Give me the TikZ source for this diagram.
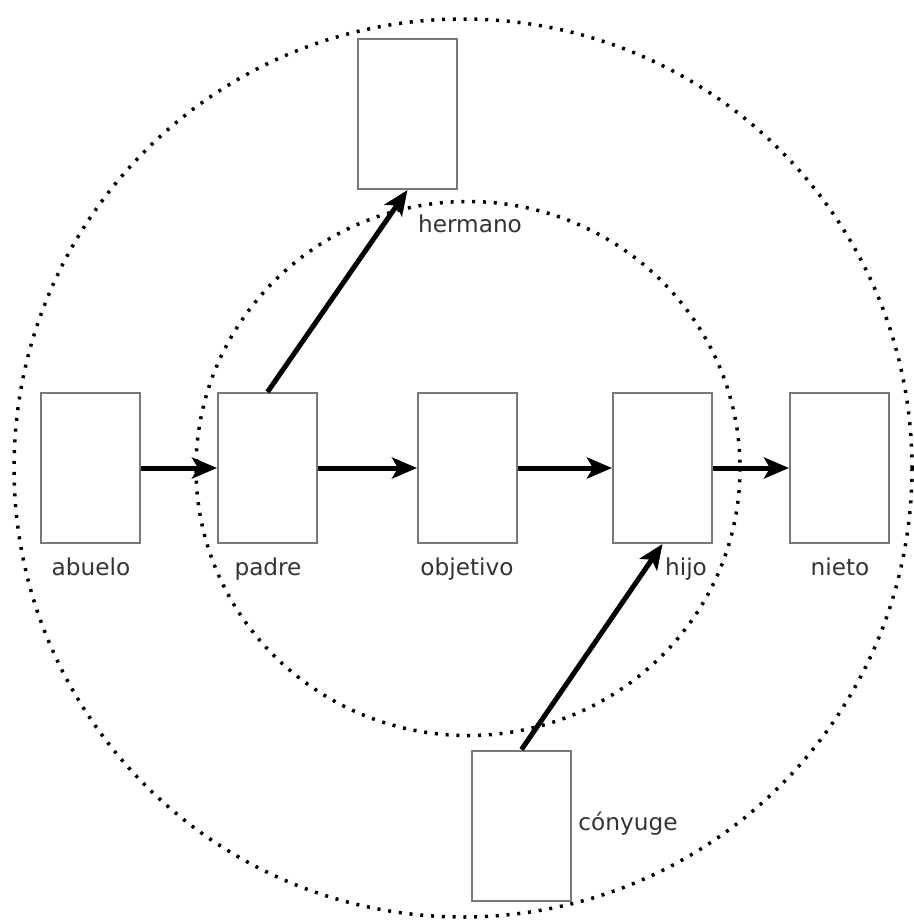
\documentclass[tikz,border=0pt]{standalone}
\usepackage{fontspec}
\setmainfont{DejaVu Sans}
\usetikzlibrary{arrows.meta}
\newlength{\du}
\setlength{\du}{0.2mm}
\definecolor{dialinegray}{rgb}{0.470000, 0.470000, 0.470000}
\definecolor{dialinetext}{rgb}{0.200000, 0.200000, 0.200000}
\tikzset{
  caja/.style={draw=dialinegray, line width=2\du, fill=white, minimum width=99\du, minimum height=150\du, inner sep=0pt},
  etiqueta/.style={font=\fontsize{13.2}{16}\selectfont, text=dialinetext, inner sep=0pt, anchor=base},
  enlace/.style={line width=5\du, -{Stealth[length=5mm, width=4.2mm, inset=1.2mm]}},
  anillo/.style={line width=3.5\du, dash pattern=on 3\du off 7.8\du}
}

\begin{document}
\begin{tikzpicture}
\pgftransformxscale{1.000000}
\pgftransformyscale{-1.000000}
\useasboundingbox (0\du,0\du) rectangle (913\du,922\du);
% circulos
\draw[anillo] (463.000000\du,468.000000\du) circle [radius=449\du];
\draw[anillo] (468.000000\du,468.500000\du) ellipse [x radius=272\du, y radius=267\du];
% cajas
\node[caja] (hermano) at (407.500000\du,114.000000\du) {};
\node[caja] (abuelo) at (90.500000\du,468.000000\du) {};
\node[caja] (padre) at (267.500000\du,468.000000\du) {};
\node[caja] (objetivo) at (467.500000\du,468.000000\du) {};
\node[caja] (hijo) at (662.500000\du,468.000000\du) {};
\node[caja] (nieto) at (839.500000\du,468.000000\du) {};
\node[caja] (conyuge) at (521.500000\du,825.500000\du) {};
% textos
\node[etiqueta] (tHermano) at (470.000000\du,232.000000\du) {hermano};
\node[etiqueta] (tAbuelo) at (91.000000\du,575.000000\du) {abuelo};
\node[etiqueta] (tPadre) at (268.000000\du,575.000000\du) {padre};
\node[etiqueta] (tObjetivo) at (467.000000\du,575.000000\du) {objetivo};
\node[etiqueta] (tHijo) at (686.000000\du,575.000000\du) {hijo};
\node[etiqueta] (tNieto) at (840.000000\du,575.000000\du) {nieto};
\node[etiqueta] (tConyuge) at (628.000000\du,830.000000\du) {cónyuge};
% flechas
\draw[enlace] (abuelo.east) -- (padre.west);
\draw[enlace] (padre.east) -- (objetivo.west);
\draw[enlace] (objetivo.east) -- (hijo.west);
\draw[enlace] (hijo.east) -- (nieto.west);
\draw[enlace] (padre.north) -- (hermano.south);
\draw[enlace] (conyuge.north) -- (hijo.south);
\end{tikzpicture}
\end{document}
